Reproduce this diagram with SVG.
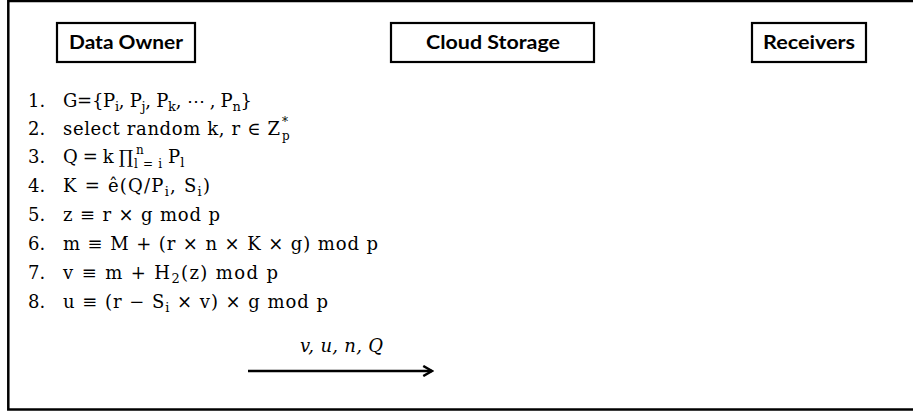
<svg xmlns="http://www.w3.org/2000/svg" width="913" height="413" viewBox="0 0 913 413">
  <style>
    .box { fill: #fff; stroke: #000; stroke-width: 2.2; }
    .hdr { font-family: Lato, "Liberation Sans", sans-serif; font-weight: bold; font-size: 18px; fill: #000; text-anchor: middle; }
    .m { font-family: "DejaVu Serif", "Liberation Serif", serif; font-size: 18px; fill: #000; }
    .s { font-size: 13px; }
    .ss { font-family: "DejaVu Serif", "Liberation Serif", serif; font-size: 12px; fill: #000; }
    .it { font-style: italic; }
    .conn { stroke: #000; stroke-width: 2.5; fill: none; }
  </style>
  <defs>
    <marker id="arr" viewBox="0 0 10 10" refX="8.5" refY="5" markerWidth="5" markerHeight="5" orient="auto" markerUnits="strokeWidth">
      <path d="M1.5,1 L8.5,5 L1.5,9" fill="none" stroke="#000" stroke-width="2"/>
    </marker>
  </defs>
  <rect x="0" y="0" width="913" height="413" fill="#fff"/>
  <rect x="8.3" y="1" width="1000" height="408.5" fill="none" stroke="#000" stroke-width="2.5"/>

  <g id="data-owner">
    <rect class="box" x="57" y="23" width="138" height="39"/>
    <text class="hdr" x="126" y="49" textLength="114" lengthAdjust="spacingAndGlyphs">Data Owner</text>
  </g>
  <g id="cloud-storage">
    <rect class="box" x="391" y="23" width="203" height="39"/>
    <text class="hdr" x="493" y="49" textLength="134" lengthAdjust="spacingAndGlyphs">Cloud Storage</text>
  </g>
  <g id="receivers">
    <rect class="box" x="752" y="23" width="114" height="39"/>
    <text class="hdr" x="809" y="49" textLength="92" lengthAdjust="spacingAndGlyphs">Receivers</text>
  </g>

  <g id="steps">
    <text class="m" x="28" y="107">1.</text>
    <text class="m" x="63" y="107" textLength="189" lengthAdjust="spacing">G={P<tspan class="s" dy="4">i</tspan><tspan dy="-4">, P</tspan><tspan class="s" dy="4">j</tspan><tspan dy="-4">, P</tspan><tspan class="s" dy="4">k</tspan><tspan dy="-4">, ⋯ , P</tspan><tspan class="s" dy="4">n</tspan><tspan dy="-4">}</tspan></text>

    <text class="m" x="28" y="135">2.</text>
    <text class="m" x="63" y="135" textLength="217" lengthAdjust="spacing">select random k, r ∈ Z</text>
    <text class="ss" x="282" y="126">*</text>
    <text class="ss" x="282" y="140">p</text>

    <text class="m" x="28" y="163">3.</text>
    <text class="m" x="63" y="163" textLength="70" lengthAdjust="spacing">Q = k ∏</text>
    <text class="ss" x="136" y="154">n</text>
    <text class="ss" x="134" y="168" textLength="28" lengthAdjust="spacing">l=i</text>
    <text class="m" x="168" y="163">P<tspan class="s" dy="4">l</tspan></text>

    <text class="m" x="28" y="192">4.</text>
    <text class="m" x="63" y="192" textLength="147" lengthAdjust="spacing">K = ê(Q/P<tspan class="s" dy="4">i</tspan><tspan dy="-4">, S</tspan><tspan class="s" dy="4">i</tspan><tspan dy="-4">)</tspan></text>

    <text class="m" x="28" y="221">5.</text>
    <text class="m" x="63" y="221" textLength="157" lengthAdjust="spacing">z ≡ r × g mod p</text>

    <text class="m" x="28" y="250">6.</text>
    <text class="m" x="63" y="250" textLength="315" lengthAdjust="spacing">m ≡ M + (r × n × K × g) mod p</text>

    <text class="m" x="28" y="279">7.</text>
    <text class="m" x="63" y="279" textLength="215" lengthAdjust="spacing">v ≡ m + H<tspan class="s" dy="4">2</tspan><tspan dy="-4">(z) mod p</tspan></text>

    <text class="m" x="28" y="308">8.</text>
    <text class="m" x="63" y="308" textLength="265" lengthAdjust="spacing">u ≡ (r − S<tspan class="s" dy="4">i</tspan><tspan dy="-4"> × v) × g mod p</tspan></text>
  </g>

  <g id="connectors">
    <line class="conn" x1="248" y1="371" x2="432" y2="371" marker-end="url(#arr)"/>
    <text class="m it" x="341.5" y="352" text-anchor="middle" textLength="83" lengthAdjust="spacing">v, u, n, Q</text>
  </g>
</svg>
